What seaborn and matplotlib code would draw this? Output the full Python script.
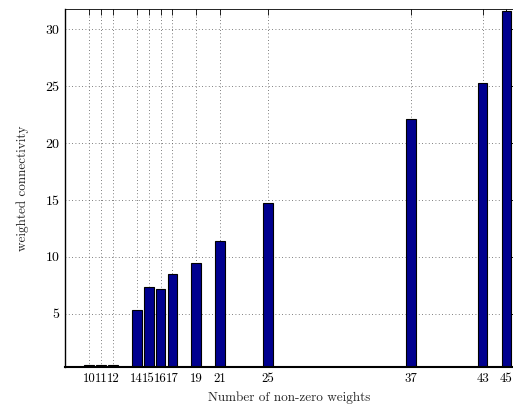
import numpy as np
import pandas as pd
import seaborn as sns
import matplotlib.pyplot as plt

# data
nnz_weights = [10, 11, 12, 14, 15, 16, 17, 19, 21, 25, 37, 43, 45]
connectivity = [0.45, 0.45, 0.45, 5.3, 7.35, 7.2, 8.5, 9.5, 11.35, 14.75, 22.15, 25.3, 31.65]
y_ticks = [5, 10, 15, 20, 25, 30]

df = pd.DataFrame({'nnz': nnz_weights, 'conn': connectivity})

sns.set_theme(style='white')
plt.rcParams['font.family'] = ['cmr10', 'DejaVu Serif']
plt.rcParams['axes.formatter.use_mathtext'] = True
plt.rcParams['mathtext.fontset'] = 'cm'

fig = plt.figure(figsize=(5.13, 4.07), dpi=100)
ax = fig.add_axes([0.127, 0.098, 0.873, 0.88])

sns.barplot(data=df, x='nnz', y='conn', native_scale=True, width=0.82,
            color='#00008f', saturation=1, edgecolor='black', linewidth=0.8, ax=ax)

ax.set_xlim(8, 45.55)
ax.set_ylim(0.3, 31.8)
ax.set_xticks(nnz_weights)
ax.set_xticklabels([str(v) for v in nnz_weights])
ax.set_yticks(y_ticks)
ax.set_yticklabels([str(v) for v in y_ticks])

ax.grid(True, linestyle=(0, (1, 3)), color='#555555', linewidth=0.6)
ax.set_axisbelow(True)
ax.tick_params(direction='in', top=True, right=True, length=4, width=0.6,
               labelsize=10, colors='black', pad=4)
ax.tick_params(axis='x', labelsize=9.2)
for s in ax.spines.values():
    s.set_color('black')
    s.set_linewidth(0.6)
ax.spines['bottom'].set_linewidth(1.5)
ax.spines['left'].set_linewidth(1.0)

ax.set_xlabel('Number of non-zero weights', fontsize=9.5, labelpad=5)
ax.set_ylabel('weighted connectivity', fontsize=9.5, labelpad=12)

fig.savefig('out.png', dpi=100)
